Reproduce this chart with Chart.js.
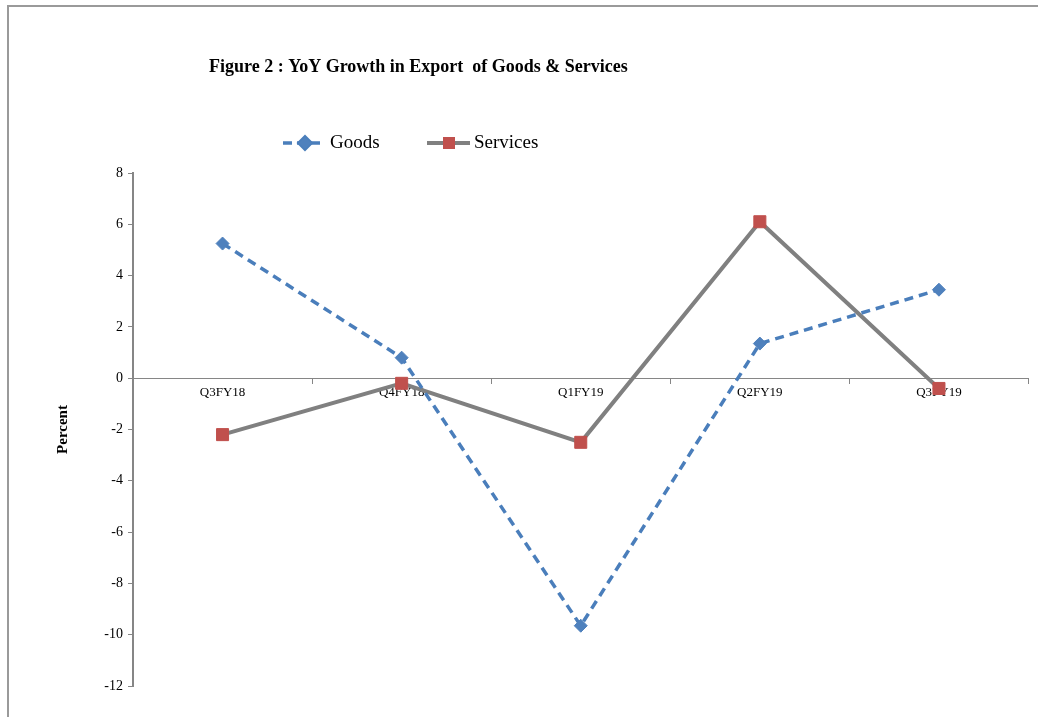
<!DOCTYPE html>
<html>
<head>
<meta charset="utf-8">
<title>YoY Growth in Export of Goods & Services</title>
<script src="https://cdn.jsdelivr.net/npm/chart.js@4/dist/chart.umd.min.js"></script>
<style>
  html, body { margin: 0; padding: 0; background: #fff; }
  #wrap { position: relative; width: 1038px; height: 717px; }
</style>
</head>
<body>
<div id="wrap"><canvas id="chart" width="1038" height="717"></canvas></div>
<script>
(function () {
  'use strict';

  var CATEGORIES = ['Q3FY18', 'Q4FY18', 'Q1FY19', 'Q2FY19', 'Q3FY19'];
  var GOODS = [5.25, 0.8, -9.65, 1.35, 3.45];
  var SERVICES = [-2.2, -0.2, -2.5, 6.1, -0.4];
  var Y_MIN = -12, Y_MAX = 8, Y_STEP = 2;

  var TITLE = 'Figure 2 : YoY Growth in Export  of Goods & Services';
  var SERIF = '"Liberation Serif", "Times New Roman", serif';
  var BLUE = '#4A7EBB', BLUE_MARK = '#4F81BD';
  var RED = '#C0504D', GRAY = '#808080', AXIS = '#868686';

  // frame, title and legend drawn by hand (positions follow the original)
  var decor = {
    id: 'decor',
    beforeDraw: function (chart) {
      var ctx = chart.ctx;
      ctx.save();
      ctx.fillStyle = '#fff';
      ctx.fillRect(0, 0, chart.width, chart.height);
      ctx.strokeStyle = '#9a9a9a';
      ctx.lineWidth = 2;
      ctx.beginPath();
      ctx.moveTo(8, chart.height);
      ctx.lineTo(8, 6);
      ctx.lineTo(chart.width, 6);
      ctx.stroke();
      ctx.restore();
    },
    afterDraw: function (chart) {
      var ctx = chart.ctx;
      ctx.save();
      ctx.fillStyle = '#000';
      ctx.textBaseline = 'middle';
      ctx.font = 'bold 18px ' + SERIF;
      ctx.fillText(TITLE, 209, 67);

      // Goods
      ctx.strokeStyle = BLUE;
      ctx.lineWidth = 3.5;
      ctx.setLineDash([9, 5]);
      ctx.beginPath(); ctx.moveTo(283, 143); ctx.lineTo(325, 143); ctx.stroke();
      ctx.setLineDash([]);
      Chart.helpers.drawPoint(ctx, { pointStyle: 'rectRot', radius: 6, borderWidth: 1 }, 305, 143);
      ctx.fillStyle = BLUE_MARK;
      ctx.fill();
      ctx.fillStyle = '#000';
      ctx.font = '19px ' + SERIF;
      ctx.fillText('Goods', 330, 143);

      // Services
      ctx.strokeStyle = GRAY;
      ctx.lineWidth = 4;
      ctx.beginPath(); ctx.moveTo(427, 143); ctx.lineTo(470, 143); ctx.stroke();
      ctx.fillStyle = RED;
      ctx.fillRect(443, 137, 12, 12);
      ctx.fillStyle = '#000';
      ctx.fillText('Services', 474, 143);
      ctx.restore();
    }
  };

  var ctx = document.getElementById('chart').getContext('2d');
  new Chart(ctx, {
    type: 'line',
    data: {
      labels: CATEGORIES,
      datasets: [
        {
          label: 'Goods',
          data: GOODS,
          borderColor: BLUE,
          borderWidth: 3.5,
          borderDash: [9, 6],
          pointStyle: 'rectRot',
          pointRadius: 6.5,
          pointBackgroundColor: BLUE_MARK,
          pointBorderColor: BLUE_MARK,
          pointBorderWidth: 1,
          tension: 0
        },
        {
          label: 'Services',
          data: SERVICES,
          borderColor: GRAY,
          borderWidth: 4,
          pointStyle: 'rect',
          pointRadius: 8.5,
          pointBackgroundColor: RED,
          pointBorderColor: RED,
          pointBorderWidth: 1,
          tension: 0
        }
      ]
    },
    options: {
      responsive: false,
      animation: false,
      layout: { padding: { left: 46, top: 173, right: 6, bottom: 31 } },
      plugins: {
        legend: { display: false },
        title: { display: false },
        tooltip: { enabled: false }
      },
      scales: {
        x: {
          position: { y: 0 },
          offset: true,
          grid: { display: true, drawOnChartArea: false, drawTicks: true, tickLength: 5, color: AXIS, offset: true },
          border: { display: true, color: AXIS, width: 1 },
          ticks: { color: '#000', font: { family: SERIF, size: 13 }, padding: 2, maxRotation: 0, autoSkip: false }
        },
        y: {
          min: Y_MIN,
          max: Y_MAX,
          afterFit: function (scale) { scale.width = 87; },
          grid: { display: true, drawOnChartArea: false, drawTicks: true, tickLength: 5, color: AXIS },
          border: { display: true, color: AXIS, width: 2 },
          ticks: { stepSize: Y_STEP, color: '#000', font: { family: SERIF, size: 14 }, padding: 5 },
          title: { display: true, text: 'Percent', color: '#000', font: { family: SERIF, size: 15, weight: 'bold' }, padding: { top: 8, bottom: 0 } }
        }
      }
    },
    plugins: [decor]
  });
})();
</script>
</body>
</html>
